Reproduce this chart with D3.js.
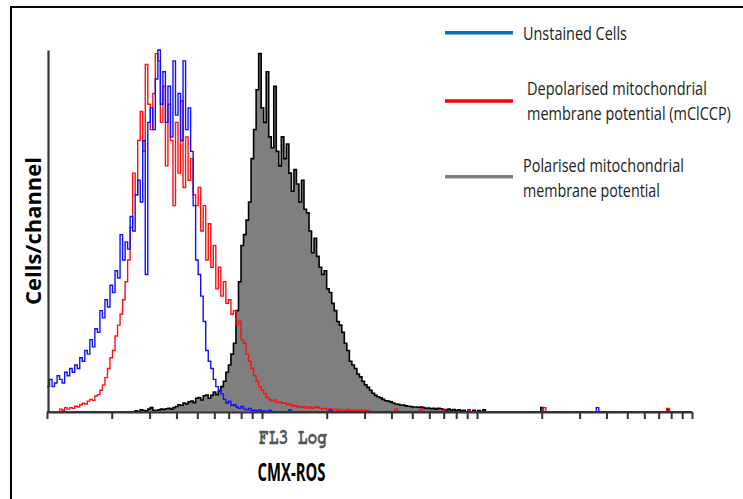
<!DOCTYPE html>
<html><head><meta charset="utf-8">
<script src="https://cdn.jsdelivr.net/npm/d3@7"></script>
<style>html,body{margin:0;padding:0;background:#fff;}svg{display:block;}</style>
</head><body>
<svg id="chart" width="743" height="499"></svg>
<script>
// ---- data (channels: 256 log channels over 3 decades, FL3 Log 1..1000) ----
const nChannels = 256;
const xTickValues = [1,2,3,4,5,6,7,8,9,10,20,30,40,50,60,70,80,90,100,200,300,400,500,600,700,800,900,1000];
const seriesNames = ["Unstained Cells", "Depolarised mitochondrial|membrane potential (mClCCP)", "Polarised mitochondrial|membrane potential"];

// Unstained cells (blue), starting at channel 0
const blueStart = 0;
const blueValues = [7,9,7,8,10,9,8,11,10,12,11,13,12,15,14,17,16,20,18,23,22,28,26,31,29,35,33,39,37,49,
  42,47,45,54,50,60,64,58,75,38,80,84,78,92,100,85,94,80,90,76,97,82,88,75,97,78,84,72,57,42,
  38,32,25,17,14,12,9,7,6,5,3.5,2.5,3,1.8,2,1.4,1,1.5,0.8,0.6,1,0.4,0.5,0.3,0.6,0.2,0.3,0,0.4,0];
const blueTail = [[96,0.6],[112,0.4],[218,1.2]];

// Depolarised (red), starting at channel 0
const redStart = 0;
const redValues = [0,0,0,0,0,0.8,0.5,1.2,0.8,1.2,1,1.6,1.4,2,2.4,2.2,3,3.5,3.2,4.4,4.8,6,7.5,9.5,12,15,17,21,24,27,
  31,36,42,51,66,60,75,83,72,96,85,78,88,99,97,80,90,68,85,75,57,80,66,86,62,76,64,70,60,57,
  62,50,57,42,52,40,46,34,40,32,36,30,31,27,28,24,25,20,19,16,14,12,10,8.5,7,6,5,4,3.4,3,
  3.3,2.6,2.8,2.4,2.5,2,2.2,1.6,1.8,1.4,1.5,1.2,1.5,1.1,1.4,1,1.3,1.4,1,0.8,1,0.7,0.9,0.6,0.8,0.5,0.7,0.6,0.5,0.7,
  0.4,0.6,0.5,0.4,0.6,0.3,0.5,0.3];
const redTail = [[138,0.8],[148,0.8],[157,0.5],[167,0.6],[197,1.2],[246,1]];

// Polarised (grey filled), starting at channel 30
const greyStart = 30;
const greyValues = [0,0,0,0,0,0.3,0,0.6,0.4,0.3,0.8,1.2,0.5,0.4,0.6,0.8,0.7,0.9,1,0.8,1.2,1.5,2,1.8,2.5,2.2,2.8,3,2.6,3.8,
  4,3.3,4.5,4.7,3.8,4.6,5.5,4.8,5.8,7,8.5,11,13,16,19,28,36,46,49,53,58,70,78,89,99,84,80,94,76,73,
  90,72,68,76,70,74,66,61,67,63,58,64,56,55,50,44,48,43,40,38,39,34,33,30,28,25,24,22,19,17,
  14,13,12,10.5,9.7,8.5,7.5,6.8,6,5.2,4.6,4.2,3.9,3.5,3.1,3,2.8,2.5,2.2,2.1,1.9,1.9,1.7,1.6,1.5,1.4,1.4,1.3,1.4,1.2,
  1,1.1,0.9,1,0.8,1,0.9,0.7,0.6,0.8,0.5,0.7,0.4,0.6,0.3,0.5,0,0.6,0,0.5,0,0.4,0,0.6];
const greyTail = [[196,1.2],[246,0.8]];

// ---- build ----
function fullSeries(start, values, tail) {
  const a = new Array(nChannels).fill(0);
  values.forEach((v, k) => { a[start + k] = v; });
  tail.forEach(([c, v]) => { a[c] = v; });
  return a;
}
const chanEdge = i => Math.pow(10, 3 * i / nChannels);
function toPoints(arr) {
  const pts = arr.map((v, i) => ({x: chanEdge(i), v}));
  pts.push({x: chanEdge(nChannels), v: arr[nChannels - 1]});
  return pts;
}
const blue = toPoints(fullSeries(blueStart, blueValues, blueTail));
const red = toPoints(fullSeries(redStart, redValues, redTail));
const grey = toPoints(fullSeries(greyStart, greyValues, greyTail));

const svg = d3.select("#chart");
const x = d3.scaleLog().domain([1, 1000]).range([47, 692]);
const y = d3.scaleLinear().domain([0, 100]).range([412, 50]);

// outer frame
svg.append("rect").attr("x", 11).attr("y", 7).attr("width", 800).attr("height", 600)
  .attr("fill", "none").attr("stroke", "#000").attr("stroke-width", 2);

const line = d3.line().x(d => x(d.x)).y(d => y(d.v)).curve(d3.curveStepAfter);
const area = d3.area().x(d => x(d.x)).y0(y(0)).y1(d => y(d.v)).curve(d3.curveStepAfter);

svg.append("path").datum(grey).attr("d", area).attr("fill", "#7f7f7f");
svg.append("path").datum(grey).attr("d", line).attr("fill", "none").attr("stroke", "#000").attr("stroke-width", 1.6);
svg.append("path").datum(red).attr("d", line).attr("fill", "none").attr("stroke", "#ff1010").attr("stroke-width", 1.4);
svg.append("path").datum(blue).attr("d", line).attr("fill", "none").attr("stroke", "#1010ff").attr("stroke-width", 1.4);

// axes
const xAxis = d3.axisBottom(x).tickValues(xTickValues).tickFormat("").tickSize(7).tickSizeOuter(0);
const gx = svg.append("g").attr("transform", `translate(0,${y(0)})`).call(xAxis);
gx.select(".domain").attr("stroke", "#333").attr("stroke-width", 2.2);
gx.selectAll(".tick line").attr("stroke", "#333").attr("stroke-width", 2);
const yAxis = d3.axisLeft(y).tickValues([]).tickSizeOuter(0);
const gy = svg.append("g").attr("transform", `translate(${x(1) + 1},0)`).call(yAxis);
gy.select(".domain").attr("stroke", "#333").attr("stroke-width", 2.2);

// text helper: draw text, then squeeze horizontally to the target width
function fitText(str, opts) {
  const g = svg.append("g");
  const t = g.append("text").attr("x", 0).attr("y", 0)
    .attr("text-anchor", opts.anchor || "start")
    .style("font-family", opts.family).attr("font-size", opts.size)
    .attr("font-weight", opts.weight || "normal").attr("fill", opts.fill).text(str);
  if (opts.stroke) t.attr("stroke", opts.fill).attr("stroke-width", opts.stroke);
  const natural = t.node().getComputedTextLength();
  const s = opts.width / natural;
  g.attr("transform", `translate(${opts.x},${opts.y})${opts.rotate ? " rotate(" + opts.rotate + ")" : ""} scale(${s},1)`);
  return g;
}

// axis titles
fitText("FL3 Log", {x: 293, y: 444, anchor: "middle", width: 68, size: 23, weight: "bold", stroke: 0.3,
  family: "'Nimbus Mono PS', 'FreeMono', 'Courier New', 'Liberation Mono', monospace", fill: "#555"});
fitText("CMX-ROS", {x: 291.5, y: 480.5, anchor: "middle", width: 68, size: 25.5, weight: "bold",
  family: "'Open Sans', sans-serif", fill: "#000"});
fitText("Cells/channel", {x: 41, y: 231, anchor: "middle", width: 148, size: 21, weight: "bold", rotate: -90,
  family: "'Open Sans', sans-serif", fill: "#000"});

// legend
const legendColors = ["#0070c0", "#ff0000", "#808080"];
const legendLineY = [32.7, 101, 176.7];
const legendText = [
  [{x: 523, y: 40, w: 104}],
  [{x: 527, y: 95, w: 180}, {x: 527, y: 120, w: 204}],
  [{x: 523, y: 171.5, w: 161}, {x: 523, y: 196.5, w: 137}]
];
seriesNames.forEach((name, k) => {
  svg.append("line").attr("x1", 445).attr("x2", 513).attr("y1", legendLineY[k]).attr("y2", legendLineY[k])
    .attr("stroke", legendColors[k]).attr("stroke-width", 3.5);
  const parts = name.split("|");
  legendText[k].forEach((o, j) => {
    fitText(parts[j], {x: o.x, y: o.y, width: o.w, size: 18.5,
      family: "'Open Sans', sans-serif", fill: "#222"});
  });
});
</script>
</body></html>
